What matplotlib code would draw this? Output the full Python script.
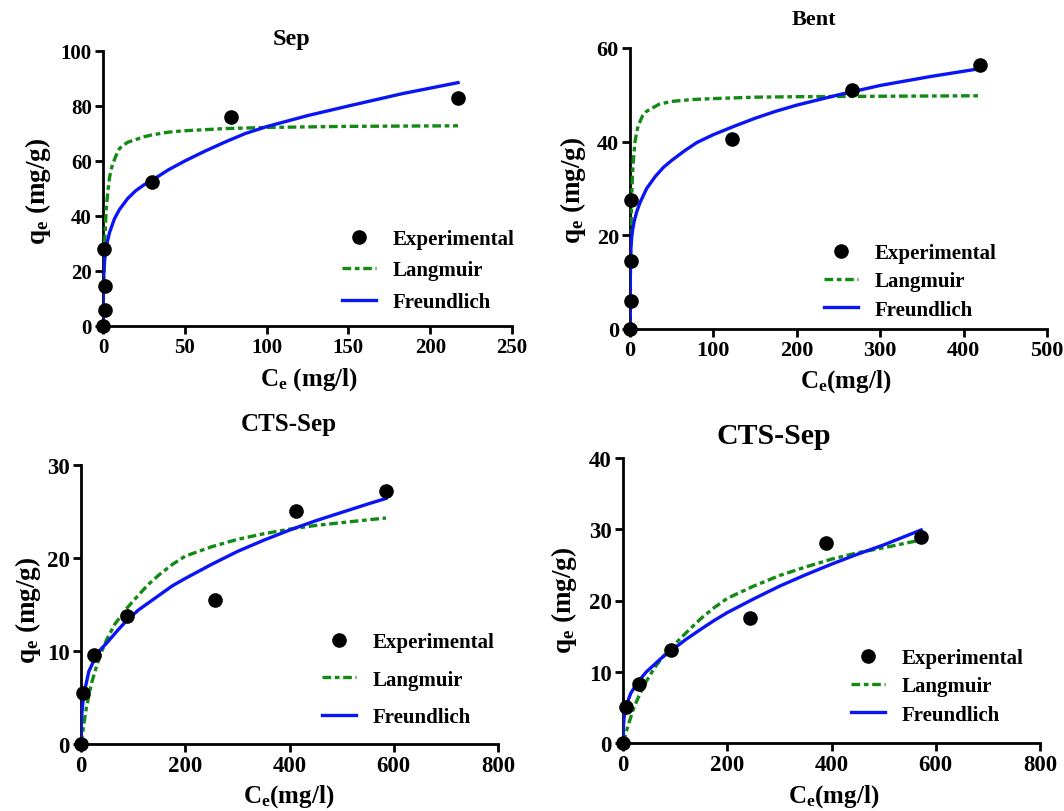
import matplotlib
matplotlib.use("Agg")
import matplotlib.pyplot as plt

plt.rcParams['font.family'] = ['Liberation Serif', 'DejaVu Serif']
plt.rcParams['font.weight'] = 'bold'
plt.rcParams['mathtext.fontset'] = 'custom'
plt.rcParams['mathtext.rm'] = 'Liberation Serif:bold'
plt.rcParams['mathtext.it'] = 'Liberation Serif:bold'
plt.rcParams['mathtext.bf'] = 'Liberation Serif:bold'

W, H = 1064, 812

# ---- Sep ----
sep_ce = [0, 1, 1, 0.5, 30, 78, 217]
sep_qe = [0, 6, 14.5, 28, 52.5, 76, 83]
sep_lang_x = [0, 0.25, 0.5, 1, 1.5, 2, 3, 4, 5, 6, 8, 10, 12, 15, 20, 25, 30, 40, 50, 75,
              100, 150, 217]
sep_lang_y = [0, 11, 19, 30, 37, 43, 49, 54, 57, 59, 62, 64.5, 65.5, 66.8, 67.8, 68.8, 69.5,
              70.5, 71, 71.8, 72.2, 72.6, 72.8]
sep_freu_x = [0, 0.2, 0.5, 1, 2, 4, 7, 10, 15, 20, 25, 30, 40, 50, 62, 75, 87, 100, 125, 150,
              183, 217]
sep_freu_y = [0, 14, 19, 24, 29, 34, 39, 42.3, 46.3, 49.2, 51.3, 53, 56.8, 60, 63.5, 67, 70,
              72.5, 76.5, 80, 84.5, 88.5]

# ---- Bent ----
bent_ce = [0, 1, 1, 1, 122, 266, 420]
bent_qe = [0, 6, 14.5, 27.5, 40.5, 51, 56.3]
bent_lang_x = [0, 0.5, 1, 2, 3, 4, 6, 8, 10, 15, 20, 25, 35, 50, 75, 100, 150, 200, 300, 420]
bent_lang_y = [0, 11, 19, 28, 33, 36, 40, 42, 43.5, 45.5, 46.5, 47, 48, 48.6, 49, 49.2, 49.5,
               49.6, 49.7, 49.8]
bent_freu_x = [0, 0.3, 1, 2, 3, 5, 8, 12, 20, 30, 40, 50, 65, 80, 100, 125, 150, 175, 200,
               250, 300, 360, 420]
bent_freu_y = [0, 11, 17, 19.5, 21, 23, 25, 27, 30, 32.5, 34.5, 36, 38, 39.8, 41.5, 43.3, 45,
               46.5, 47.8, 50, 52, 53.9, 55.6]

# ---- CTS-Sep (left) ----
cts1_ce = [0, 3, 25, 88, 258, 413, 585]
cts1_qe = [0, 5.5, 9.6, 13.8, 15.5, 25.1, 27.2]
cts1_lang_x = [0, 5, 10, 20, 30, 40, 50, 65, 88, 110, 130, 150, 175, 200, 250, 300, 350, 400,
               450, 500, 550, 585]
cts1_lang_y = [0, 2.0, 3.8, 6.5, 8.4, 10, 11.3, 12.9, 14.6, 16, 17.2, 18.2, 19.3, 20.2, 21.2,
               22.0, 22.6, 23.1, 23.5, 23.8, 24.1, 24.3]
cts1_freu_x = [0, 1, 2, 5, 10, 15, 25, 35, 50, 70, 88, 110, 130, 150, 175, 200, 250, 300, 350,
               400, 450, 500, 550, 585]
cts1_freu_y = [0, 2.8, 3.5, 5.3, 6.5, 7.8, 9.0, 10, 10.9, 12.2, 13.3, 14.4, 15.2, 16.0, 17,
               17.8, 19.3, 20.7, 21.9, 23.0, 24, 24.9, 25.8, 26.4]

# ---- CTS-Sep (right) ----
cts2_ce = [0, 5, 30, 93, 243, 390, 572]
cts2_qe = [0, 5.0, 8.3, 13.1, 17.6, 28.1, 28.9]
cts2_lang_x = [0, 10, 20, 30, 45, 60, 75, 93, 120, 150, 175, 200, 250, 300, 350, 400, 450,
               500, 572]
cts2_lang_y = [0, 2.5, 4.8, 6.5, 8.7, 10.5, 12, 13.4, 15.4, 17.5, 19, 20.3, 22, 23.5, 24.7,
               25.8, 26.7, 27.4, 28.5]
cts2_freu_x = [0, 1, 2, 5, 10, 15, 30, 45, 60, 75, 93, 120, 150, 175, 200, 250, 300, 350, 400,
               450, 500, 572]
cts2_freu_y = [0, 2.5, 3.5, 5.0, 6, 7.0, 8.7, 10, 11.0, 12, 13.0, 14.5, 16.0, 17.2, 18.3,
               20.2, 22.0, 23.6, 25.1, 26.5, 27.8, 29.9]

panels = [
    dict(box=(103, 52, 512, 327), xlim=250, xt=[0, 50, 100, 150, 200, 250],
         ylim=100, yt=[0, 20, 40, 60, 80, 100],
         ce=sep_ce, qe=sep_qe, lx=sep_lang_x, ly=sep_lang_y, fx=sep_freu_x, fy=sep_freu_y,
         title='Sep', tpos=(292, 40), tsize=17.5,
         xlabel=r'C$_{\mathrm{e}}$ (mg/l)', xlpos=(309, 380), ylpos=(38, 191),
         leg=(342, 230), legsp=0.55, tick=15),
    dict(box=(630, 49, 1047, 330), xlim=500, xt=[0, 100, 200, 300, 400, 500],
         ylim=60, yt=[0, 20, 40, 60],
         ce=bent_ce, qe=bent_qe, lx=bent_lang_x, ly=bent_lang_y, fx=bent_freu_x, fy=bent_freu_y,
         title='Bent', tpos=(814, 20), tsize=16,
         xlabel=r'C$_{\mathrm{e}}$(mg/l)', xlpos=(846, 382), ylpos=(573, 190),
         leg=(824, 244), legsp=0.4, tick=16),
    dict(box=(81, 466, 498, 745), xlim=800, xt=[0, 200, 400, 600, 800],
         ylim=30, yt=[0, 10, 20, 30],
         ce=cts1_ce, qe=cts1_qe, lx=cts1_lang_x, ly=cts1_lang_y, fx=cts1_freu_x, fy=cts1_freu_y,
         title='CTS-Sep', tpos=(289, 425), tsize=18,
         xlabel=r'C$_{\mathrm{e}}$(mg/l)', xlpos=(289, 797), ylpos=(28, 610),
         leg=(322, 633), legsp=0.85, tick=16.5),
    dict(box=(623, 459, 1040, 744), xlim=800, xt=[0, 200, 400, 600, 800],
         ylim=40, yt=[0, 10, 20, 30, 40],
         ce=cts2_ce, qe=cts2_qe, lx=cts2_lang_x, ly=cts2_lang_y, fx=cts2_freu_x, fy=cts2_freu_y,
         title='CTS-Sep', tpos=(774, 437), tsize=21.5,
         xlabel=r'C$_{\mathrm{e}}$(mg/l)', xlpos=(834, 797), ylpos=(564, 600),
         leg=(851, 649), legsp=0.4, tick=16.5),
]

fig = plt.figure(figsize=(W / 100, H / 100), dpi=100)

for p in panels:
    l, t, r, b = p['box']
    ax = fig.add_axes([l / W, 1 - b / H, (r - l) / W, (b - t) / H])
    ax.plot(p['ce'], p['qe'], 'o', color='black', ms=9.5, clip_on=False, zorder=5,
            label='Experimental')
    ax.plot(p['lx'], p['ly'], color='#138a13', lw=2.4, dashes=(2.6, 1.1, 1.4, 1.1),
            label='Langmuir', zorder=3)
    ax.plot(p['fx'], p['fy'], color='#0a14f5', lw=2.4, label='Freundlich', zorder=4)
    ax.set_xlim(0, p['xlim'])
    ax.set_ylim(0, p['ylim'])
    ax.set_xticks(p['xt'])
    ax.set_yticks(p['yt'])
    for s in ['top', 'right']:
        ax.spines[s].set_visible(False)
    for s in ['left', 'bottom']:
        ax.spines[s].set_linewidth(2.0)
    ax.tick_params(direction='out', width=2.0, length=6, labelsize=p['tick'], pad=2)
    for lab in ax.get_xticklabels() + ax.get_yticklabels():
        lab.set_fontweight('bold')
    fig.text(p['tpos'][0] / W, 1 - p['tpos'][1] / H, p['title'], ha='center', va='center',
             fontsize=p['tsize'], fontweight='bold')
    fig.text(p['xlpos'][0] / W, 1 - p['xlpos'][1] / H, p['xlabel'], ha='center', va='center',
             fontsize=18, fontweight='bold')
    fig.text(p['ylpos'][0] / W, 1 - p['ylpos'][1] / H, r'q$_{\mathrm{e}}$ (mg/g)', ha='center',
             va='center', rotation=90, fontsize=19.5, fontweight='bold')
    ax.legend(loc='upper left', bbox_to_anchor=(p['leg'][0] / W, 1 - p['leg'][1] / H),
              bbox_transform=fig.transFigure, frameon=False, borderpad=0,
              borderaxespad=0, handlelength=1.65, handletextpad=0.8,
              labelspacing=p['legsp'], prop={'family': 'Liberation Serif',
                                             'weight': 'bold', 'size': 15})

fig.savefig('out.png', dpi=100)
